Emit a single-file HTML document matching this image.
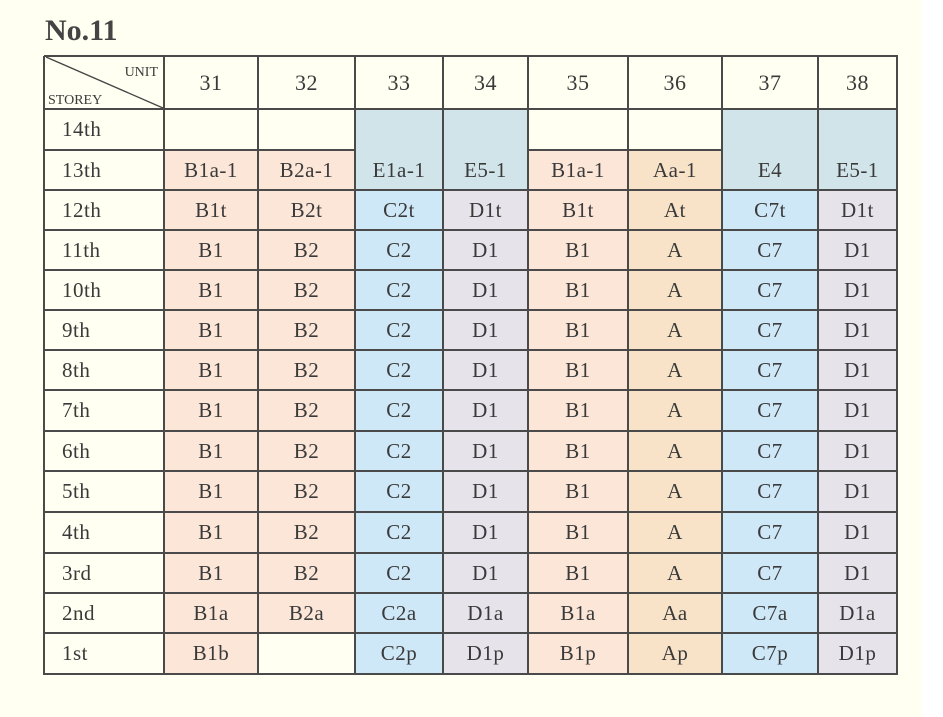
<!DOCTYPE html>
<html><head><meta charset="utf-8"><style>
body{margin:0;width:943px;height:717px;background:#fffff2;position:relative;overflow:hidden;font-family:"Liberation Serif",serif;color:#3a3a3a}
#rw{position:absolute;left:922px;top:0;width:21px;height:717px;background:#fff}
.c{position:absolute;box-sizing:border-box;display:flex;align-items:center;justify-content:center;font-size:21px;letter-spacing:0.5px}
.l{position:absolute;background:#4a4a4a}
h1{position:absolute;left:45px;top:14px;margin:0;font-size:30px;font-weight:bold;color:#444}
</style></head><body>
<div id="rw"></div>
<h1>No.11</h1>
<div id="t"></div>
<script>
(function(){
var X=[44,164,258,355,443,528,628,722,818,897];
var Y=[56,109,150,190,230,270,310,350,390,431,471,512,553,593,633,674];
var B='#fbe6d8',A='#f8e3c8',C='#cfe8f7',D='#e7e3eb',E='#d0e4ea',W='#fffff2';
var hdr=['31','32','33','34','35','36','37','38'];
var rows=['14th','13th','12th','11th','10th','9th','8th','7th','6th','5th','4th','3rd','2nd','1st'];
var colC=[B,B,C,D,B,A,C,D];
var data=[];
data[1]=['B1a-1','B2a-1','E1a-1','E5-1','B1a-1','Aa-1','E4','E5-1'];
data[2]=['B1t','B2t','C2t','D1t','B1t','At','C7t','D1t'];
for(var r=3;r<12;r++)data[r]=['B1','B2','C2','D1','B1','A','C7','D1'];
data[12]=['B1a','B2a','C2a','D1a','B1a','Aa','C7a','D1a'];
data[13]=['B1b','','C2p','D1p','B1p','Ap','C7p','D1p'];
var h='';
function cell(x0,x1,y0,y1,bg,txt,st){h+='<div class="c" style="left:'+x0+'px;top:'+y0+'px;width:'+(x1-x0)+'px;height:'+(y1-y0)+'px;background:'+bg+';'+(st||'')+'">'+txt+'</div>';}
for(var i=0;i<8;i++)cell(X[i+1],X[i+2],Y[0],Y[1],W,hdr[i],'font-size:22px');
for(var r=0;r<14;r++){
 cell(X[0],X[1],Y[r+1],Y[r+2],W,rows[r],'justify-content:flex-start;padding-left:18px');
 for(var i=0;i<8;i++){
  var bg=colC[i],t=r==0?'':data[r][i];
  if(r==0){bg=(i==2||i==3||i==6||i==7)?E:W;}
  if(r==1&&(i==2||i==3||i==6||i==7))bg=E;
  if(r==13&&i==1)bg=W;
  cell(X[i+1],X[i+2],Y[r+1],Y[r+2],bg,t);
 }
}
h+='<div class="c" style="left:44px;top:56px;width:120px;height:53px;background:'+W+'"></div>';
h+='<svg style="position:absolute;left:44px;top:56px" width="120" height="53"><line x1="2" y1="1" x2="119" y2="52" stroke="#444" stroke-width="1.3"/><text x="114" y="20" font-size="14" text-anchor="end" fill="#3a3a3a" font-family="Liberation Serif">UNIT</text><text x="4" y="48" font-size="14" fill="#3a3a3a" font-family="Liberation Serif">STOREY</text></svg>';
for(var i=0;i<X.length;i++){
 h+='<div class="l" style="left:'+(X[i]-1)+'px;top:'+Y[0]+'px;width:2px;height:'+(Y[15]-Y[0]+1)+'px"></div>';
}
for(var j=0;j<Y.length;j++){
 if(j==2){
  h+='<div class="l" style="left:'+X[0]+'px;top:'+(Y[j]-1)+'px;width:'+(X[3]-X[0])+'px;height:2px"></div>';
  h+='<div class="l" style="left:'+X[5]+'px;top:'+(Y[j]-1)+'px;width:'+(X[7]-X[5])+'px;height:2px"></div>';
  continue;
 }
 h+='<div class="l" style="left:'+X[0]+'px;top:'+(Y[j]-1)+'px;width:'+(X[9]-X[0]+1)+'px;height:2px"></div>';
}
document.getElementById('t').innerHTML=h;
})();
</script>
</body></html>
